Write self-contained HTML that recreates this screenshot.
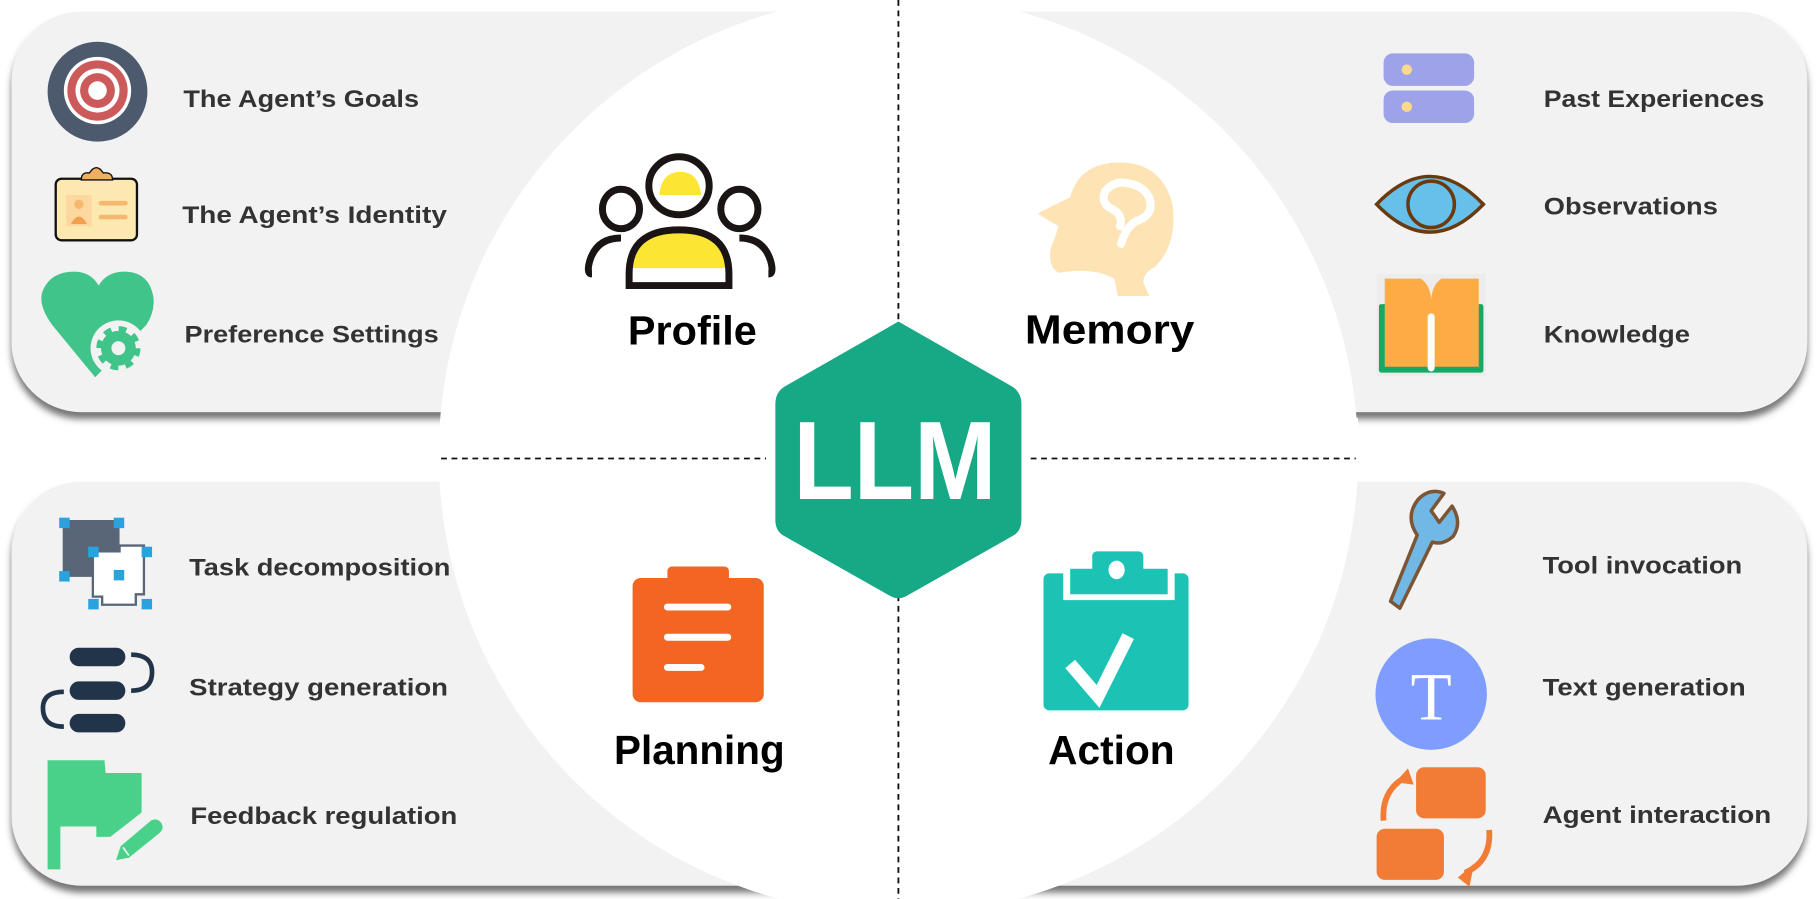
<!DOCTYPE html>
<html><head><meta charset="utf-8"><style>
html,body{margin:0;padding:0;background:#fff;}
svg{display:block;}
text{font-family:"Liberation Sans",sans-serif;font-weight:bold;}
.it{font-size:21px;fill:#333;}
.big{font-size:35px;fill:#000;}
</style></head><body>
<svg width="1820" height="899" viewBox="0 0 1568 774.5" xmlns="http://www.w3.org/2000/svg">
<defs>
<filter id="sh" x="-5%" y="-5%" width="110%" height="115%">
<feDropShadow dx="0" dy="6" stdDeviation="3" flood-color="#555" flood-opacity="0.8"/>
</filter>
</defs>
<g filter="url(#sh)">
<rect x="10" y="10" width="740" height="345" rx="60" fill="#f2f2f2"/>
<rect x="10" y="415" width="740" height="348" rx="60" fill="#f2f2f2"/>
<rect x="820" y="10" width="737" height="345" rx="60" fill="#f2f2f2"/>
<rect x="820" y="415" width="737" height="348" rx="60" fill="#f2f2f2"/>
</g>
<circle cx="774" cy="392" r="396" fill="#fff"/>
<rect x="380" y="360" width="790" height="52" fill="#fff"/>
<line x1="774" y1="0" x2="774" y2="775" stroke="#111" stroke-width="1.6" stroke-dasharray="5,4"/>
<line x1="380" y1="395" x2="660" y2="395" stroke="#111" stroke-width="1.6" stroke-dasharray="5,4"/>
<line x1="888" y1="395" x2="1168" y2="395" stroke="#111" stroke-width="1.6" stroke-dasharray="5,4"/>
<path d="M774 277 L872 333 Q880 338 880 348 L880 448 Q880 458 872 462 L780 514 Q774 517 768 514 L676 462 Q668 458 668 448 L668 348 Q668 338 676 333 Z" fill="#17a985"/>
<text x="771" y="430" text-anchor="middle" style="font-size:96px;fill:#fff" textLength="175" lengthAdjust="spacingAndGlyphs">LLM</text>
<text class="big" x="541" y="297" textLength="111" lengthAdjust="spacingAndGlyphs">Profile</text>
<text class="big" x="883" y="296" textLength="146" lengthAdjust="spacingAndGlyphs">Memory</text>
<text class="big" x="529" y="658" textLength="147" lengthAdjust="spacingAndGlyphs">Planning</text>
<text class="big" x="903" y="658" textLength="109" lengthAdjust="spacingAndGlyphs">Action</text>
<text class="it" x="158" y="92" textLength="203" lengthAdjust="spacingAndGlyphs">The Agent’s Goals</text>
<text class="it" x="157" y="192" textLength="228" lengthAdjust="spacingAndGlyphs">The Agent’s Identity</text>
<text class="it" x="159" y="295" textLength="219" lengthAdjust="spacingAndGlyphs">Preference Settings</text>
<text class="it" x="1330" y="92" textLength="190" lengthAdjust="spacingAndGlyphs">Past Experiences</text>
<text class="it" x="1330" y="185" textLength="150" lengthAdjust="spacingAndGlyphs">Observations</text>
<text class="it" x="1330" y="295" textLength="126" lengthAdjust="spacingAndGlyphs">Knowledge</text>
<text class="it" x="163" y="496" textLength="225" lengthAdjust="spacingAndGlyphs">Task decomposition</text>
<text class="it" x="163" y="599" textLength="223" lengthAdjust="spacingAndGlyphs">Strategy generation</text>
<text class="it" x="164" y="710" textLength="230" lengthAdjust="spacingAndGlyphs">Feedback regulation</text>
<text class="it" x="1329" y="494" textLength="172" lengthAdjust="spacingAndGlyphs">Tool invocation</text>
<text class="it" x="1329" y="599" textLength="175" lengthAdjust="spacingAndGlyphs">Text generation</text>
<text class="it" x="1329" y="709" textLength="197" lengthAdjust="spacingAndGlyphs">Agent interaction</text>
<!-- target -->
<circle cx="84" cy="79" r="43" fill="#4d5a6e"/>
<circle cx="84" cy="78" r="29" fill="#fff"/>
<circle cx="84" cy="78" r="26" fill="#cc5a5a"/>
<circle cx="84" cy="78" r="19" fill="#fff"/>
<circle cx="84" cy="78" r="15" fill="#cc5a5a"/>
<circle cx="84" cy="78" r="8" fill="#fff"/>
<!-- id card -->
<rect x="48" y="154" width="70" height="53" rx="5" fill="#fde8b0" stroke="#111" stroke-width="2"/>
<path d="M70 155 Q70 148 77 149 Q83 140 89 149 Q97 148 97 155 Z" fill="#f0b060" stroke="#111" stroke-width="1.2"/>
<rect x="57" y="168" width="22" height="27" fill="#fcd8a0"/>
<circle cx="68" cy="176" r="4" fill="#f5b870"/>
<path d="M61 193 Q68 180 75 193 Z" fill="#f0a050"/>
<rect x="85" y="173" width="25" height="4" rx="2" fill="#f5b870"/>
<rect x="85" y="185" width="25" height="4" rx="2" fill="#f5b870"/>
<!-- heart gear -->
<path d="M82 325 L45 280 Q32 262 37 250 Q44 234 64 234 Q78 234 85 246 Q92 234 107 234 Q128 234 132 255 Q134 268 126 280 Z" fill="#40c48a"/>
<circle cx="102" cy="300" r="24" fill="#f2f2f2"/>
<circle cx="102" cy="300" r="15" fill="#40c48a" stroke="#40c48a" stroke-width="8" stroke-dasharray="6,5.8"/>
<circle cx="102" cy="300" r="6" fill="#f2f2f2"/>
<!-- people -->
<g fill="none" stroke="#1a1414" stroke-width="6">
<ellipse cx="585" cy="160" rx="26" ry="25"/>
<ellipse cx="535" cy="180" rx="16" ry="17"/>
<ellipse cx="637" cy="180" rx="16" ry="17"/>
<path d="M510 236 Q505 236 508 225 Q514 205 535 205"/>
<path d="M662 236 Q667 236 664 225 Q658 205 637 205"/>
</g>
<path d="M568 168 Q570 148 586 148 Q602 148 604 168 Z" fill="#fde534"/>
<path d="M544 231 Q546 200 585 200 Q624 200 626 231 Z" fill="#fde534"/>
<path d="M542 246 L542 236 Q542 198 585 198 Q628 198 628 236 L628 246 Z" fill="none" stroke="#1a1414" stroke-width="6"/>
<!-- head brain -->
<path d="M963 255 L960 240 Q942 230 912 235 Q903 230 905 215 Q909 205 912 195 L894 184 Q905 178 922 170 Q930 140 965 140 Q1000 140 1010 175 Q1015 210 995 230 Q985 235 985 243 L990 255 Z" fill="#fee3b5"/>
<path d="M966 210 Q970 195 980 190 Q995 185 990 170 Q985 160 972 158 Q960 155 952 165 Q948 175 958 180 Q968 185 965 195" fill="none" stroke="#fff" stroke-width="7" stroke-linecap="round"/>
<!-- server -->
<rect x="1192" y="46" width="78" height="28" rx="8" fill="#9ea2e8"/>
<rect x="1192" y="78" width="78" height="28" rx="8" fill="#9ea2e8"/>
<circle cx="1212" cy="60" r="4.5" fill="#fbd98c"/>
<circle cx="1212" cy="92" r="4.5" fill="#fbd98c"/>
<!-- eye -->
<path d="M1186 176 Q1232 128 1278 176 Q1232 224 1186 176 Z" fill="#66c0ea" stroke="#6b3a0c" stroke-width="3"/>
<circle cx="1233" cy="176" r="20" fill="none" stroke="#6b3a0c" stroke-width="3"/>
<!-- book -->
<rect x="1186" y="236" width="94" height="88" fill="#ececec"/>
<rect x="1188" y="262" width="90" height="59" rx="2" fill="#14aa66"/>
<path d="M1193 240 L1224 240 Q1232 245 1233 258 Q1234 245 1242 240 L1274 240 L1274 316 L1193 316 Z" fill="#fdab45"/>
<rect x="1230" y="270" width="6" height="50" rx="3" fill="#fff"/>
<!-- task decomposition -->
<rect x="54" y="448" width="49" height="49" fill="#596678"/>
<path d="M80 475 L103 475 L103 470 L124 470 L124 512 L117 512 L117 521 L88 521 L88 514 L80 514 Z" fill="#fff" stroke="#596678" stroke-width="2"/>
<g fill="#29a3e0">
<rect x="51" y="446" width="9" height="9"/><rect x="98" y="446" width="9" height="9"/>
<rect x="51" y="492" width="9" height="9"/><rect x="98" y="491" width="9" height="9"/>
<rect x="76" y="471" width="9" height="9"/><rect x="122" y="471" width="9" height="9"/>
<rect x="76" y="516" width="9" height="9"/><rect x="122" y="516" width="9" height="9"/>
</g>
<!-- strategy -->
<g fill="#21344a">
<rect x="60" y="558" width="48" height="16" rx="8"/>
<rect x="60" y="587" width="48" height="16" rx="8"/>
<rect x="60" y="615" width="48" height="16" rx="8"/>
</g>
<path d="M113 564 Q131 564 131 579 Q131 595 113 595" fill="none" stroke="#21344a" stroke-width="4"/>
<path d="M55 596 Q37 596 37 610 Q37 626 55 626" fill="none" stroke="#21344a" stroke-width="4"/>
<!-- flag -->
<path d="M41 749 L41 655 L90 655 L91 666 L122 666 L122 700 L95 721 L83 721 L83 712 L52 712 L52 749 Z" fill="#49d189"/>
<path d="M100 741 L104 729 L130 707 Q135 704 139 709 Q142 714 137 718 L111 739 Z" fill="#49d189"/>
<line x1="106" y1="730" x2="111" y2="737" stroke="#f2f2f2" stroke-width="1.5"/>
<!-- planning clipboard -->
<rect x="545" y="498" width="113" height="107" rx="7" fill="#f26522"/>
<rect x="575" y="488" width="53" height="18" rx="4" fill="#f26522"/>
<rect x="572" y="520" width="58" height="6" rx="3" fill="#fff"/>
<rect x="572" y="546" width="58" height="6" rx="3" fill="#fff"/>
<rect x="572" y="572" width="35" height="6" rx="3" fill="#fff"/>
<!-- action clipboard -->
<rect x="899" y="494" width="125" height="118" rx="5" fill="#1cc3b5"/>
<rect x="916" y="490" width="96" height="27" fill="#fff"/>
<rect x="922" y="490" width="84" height="22" fill="#1cc3b5"/>
<rect x="941" y="475" width="44" height="28" rx="4" fill="#1cc3b5"/>
<ellipse cx="962" cy="491" rx="7" ry="8" fill="#fff"/>
<path d="M922 582 L946 610 L972 558" transform="translate(0,-10)" fill="none" stroke="#fff" stroke-width="11"/>
<!-- wrench -->
<path d="M1206 524 L1198 518 L1221 461 Q1210 445 1222 430 Q1232 420 1244 425 L1233 440 L1240 450 L1251 436 Q1260 450 1252 462 Q1243 470 1234 467 Z" fill="#72b8e6" stroke="#7b5534" stroke-width="3" stroke-linejoin="round"/>
<!-- T circle -->
<circle cx="1233" cy="598" r="48" fill="#7f9cff"/>
<text x="1233" y="620" text-anchor="middle" style="font-family:'Liberation Serif',serif;font-weight:normal;font-size:58px;fill:#fff">T</text>
<!-- agent interaction -->
<rect x="1220" y="661" width="60" height="44" rx="7" fill="#f27c35"/>
<rect x="1186" y="714" width="58" height="44" rx="7" fill="#f27c35"/>
<path d="M1192 707 Q1190 682 1210 670" fill="none" stroke="#f27c35" stroke-width="5"/>
<path d="M1213 662 L1202 674 L1218 676 Z" fill="#f27c35"/>
<path d="M1283 715 Q1285 742 1262 752" fill="none" stroke="#f27c35" stroke-width="5"/>
<path d="M1256 756 L1270 744 L1266 764 Z" fill="#f27c35"/>
</svg>
</body></html>
